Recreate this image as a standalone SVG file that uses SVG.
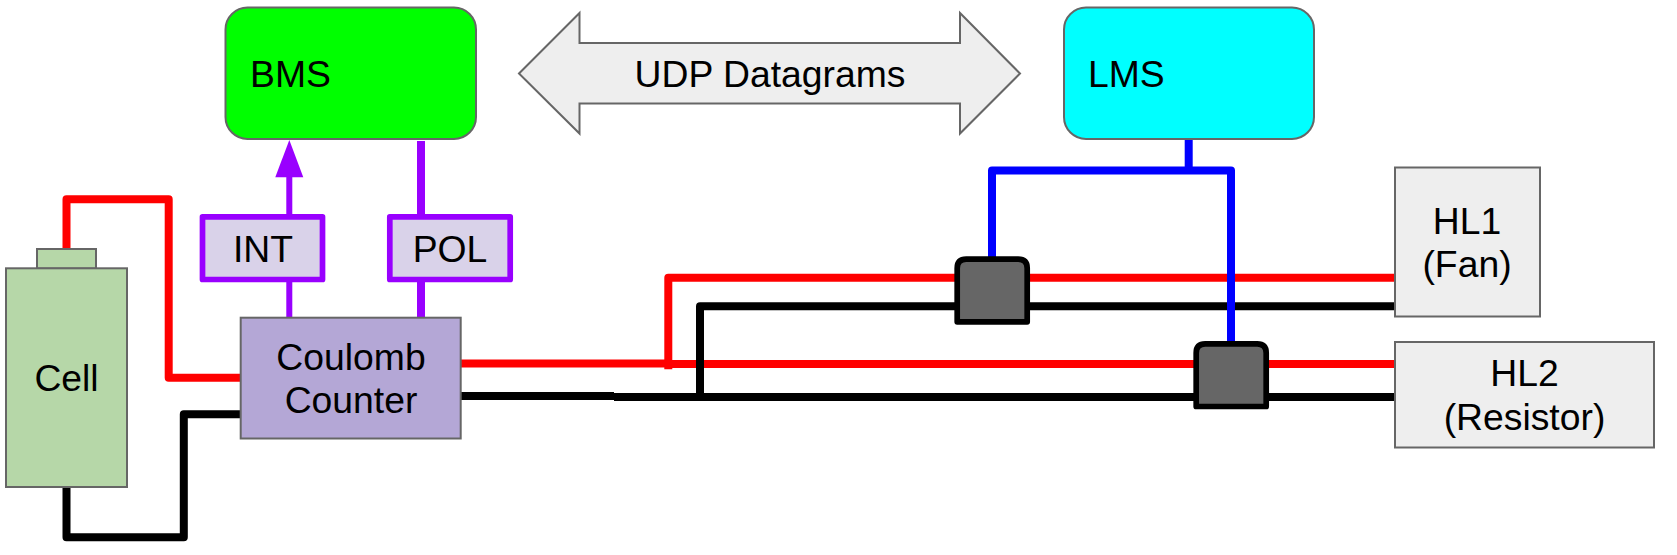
<svg xmlns="http://www.w3.org/2000/svg" width="1677" height="555" viewBox="0 0 1677 555">
<style>
text{font-family:"Liberation Sans",Arial,sans-serif;font-size:37.300px;fill:#000}
.m{text-anchor:middle}
.s{stroke:#666;stroke-width:2}
.w{fill:none;stroke-linejoin:round;stroke-linecap:butt}
.r{stroke:#f00;stroke-width:8}
.k{stroke:#000;stroke-width:8}
.b{stroke:#00f;stroke-width:8}
.p{stroke:#90f;stroke-width:8}
.n{stroke:#90f;stroke-width:6}
.sw{fill:#666;stroke:#000;stroke-width:5.700;stroke-linejoin:round}
.sig{fill:#d9d2e9;stroke:#90f;stroke-width:5.700;stroke-linejoin:round}
</style>
<rect width="1677" height="555" fill="#fff"/>
<g id="connectors">
<path class="w r" d="M66.500 249V199.300H168.700V377.700H241"/>
<path class="w k" d="M66.500 487V537.200H183.800V414.300H241"/>
<path class="w r" d="M460.500 363.500H668M668 364H1395M668.300 369.300V277.700H1395"/>
<path class="w k" d="M460.500 396H614M614 397H1395M700 397V306.300H1395"/>
<path class="w n" d="M289.300 317.500V280M289.300 214V174"/>
<path class="w p" d="M421 141V214M421 280V317.500"/>
<polygon points="289.300,140 303.300,177.300 275.300,177.300" fill="#90f"/>
<path class="w b" d="M1188.700 139V174M992 259.300V170.500H1231V343.300"/>
</g>
<g id="bms"><rect class="s" x="225.500" y="7.500" width="250.500" height="131.500" rx="22" fill="#0f0"/><text x="250" y="87">BMS</text></g>
<g id="lms"><rect class="s" x="1064" y="7.500" width="250" height="131.500" rx="22" fill="#0ff"/><text x="1088" y="87">LMS</text></g>
<g id="udp"><polygon class="s" points="519,73.500 579.500,13 579.500,43 960,43 960,13 1020,73.500 960,133.500 960,103.500 579.500,103.500 579.500,133.500" fill="#eee"/><text class="m" x="770" y="87">UDP Datagrams</text></g>
<g id="cell"><rect class="s" x="37" y="249" width="59" height="19.500" fill="#b6d7a8"/><rect class="s" x="6" y="268.300" width="121" height="218.700" fill="#b6d7a8"/><text class="m" x="66.500" y="391">Cell</text></g>
<g id="int"><rect class="sig" x="202.500" y="216.800" width="120" height="62.700"/><text class="m" x="263" y="261.700">INT</text></g>
<g id="pol"><rect class="sig" x="389.800" y="216.800" width="120.400" height="62.700"/><text class="m" x="450" y="261.700">POL</text></g>
<g id="counter"><rect class="s" x="240.700" y="317.700" width="220" height="120.800" fill="#b4a7d6"/><text class="m" x="351" y="369.500">Coulomb</text><text class="m" x="351" y="413">Counter</text></g>
<g id="switch1"><path class="sw" d="M957.200 321.800V268.200Q957.200 259.200 966.200 259.200H1018.200Q1027.200 259.200 1027.200 268.200V321.800Z"/></g>
<g id="switch2"><path class="sw" d="M1196.200 406.500V352.900Q1196.200 343.900 1205.200 343.900H1257.200Q1266.200 343.900 1266.200 352.900V406.500Z"/></g>
<g id="hl1"><rect class="s" x="1395" y="167.500" width="145" height="149" fill="#eee"/><text class="m" x="1467" y="233.500">HL1</text><text class="m" x="1467" y="277">(Fan)</text></g>
<g id="hl2"><rect class="s" x="1395" y="342" width="259" height="105.500" fill="#eee"/><text class="m" x="1524.500" y="386">HL2</text><text class="m" x="1524.500" y="429.500">(Resistor)</text></g>
</svg>
